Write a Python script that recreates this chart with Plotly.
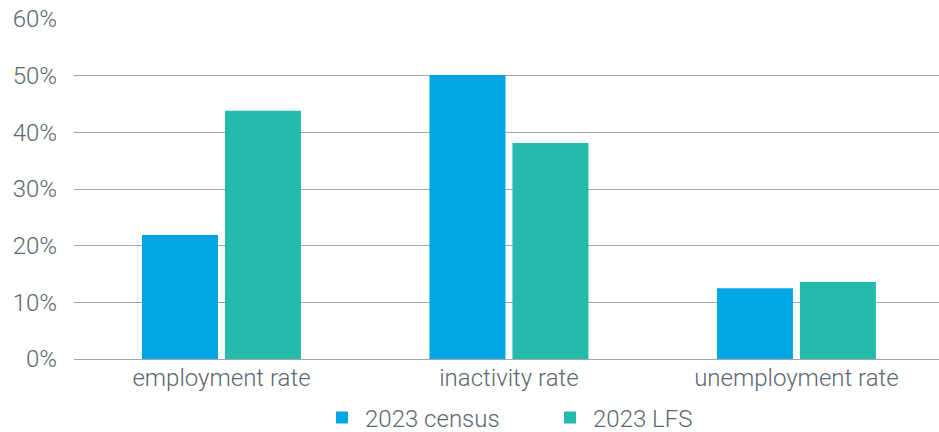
import plotly.graph_objects as go

categories = ["employment rate", "inactivity rate", "unemployment rate"]
census_2023 = [21.9, 50.1, 12.5]
lfs_2023 = [43.8, 38.1, 13.6]
series_names = ["2023 census", "2023 LFS"]
y_ticks = [0, 10, 20, 30, 40, 50, 60]
y_tick_labels = ["0%", "10%", "20%", "30%", "40%", "50%", "60%"]

FONT = "Roboto, Liberation Sans, sans-serif"
TEXT = "#5b6770"
FS = 24

fig = go.Figure()
fig.add_trace(go.Bar(x=categories, y=census_2023, name=series_names[0],
                     marker=dict(color="#00a6e1", line=dict(width=0))))
fig.add_trace(go.Bar(x=categories, y=lfs_2023, name=series_names[1],
                     marker=dict(color="#25bbac", line=dict(width=0))))

fig.update_layout(
    width=939, height=432,
    margin=dict(l=74, r=0, t=19, b=73, autoexpand=False),
    paper_bgcolor="white", plot_bgcolor="white",
    barmode="group", bargap=0.4226, bargroupgap=0.084,
    font=dict(family=FONT, size=FS, color=TEXT, weight=300),
    legend=dict(orientation="h", xref="container", x=319 / 939, xanchor="left",
                y=-0.173, yanchor="middle",
                font=dict(size=FS, color=TEXT, weight=300), itemsizing="constant",
                traceorder="normal", itemwidth=36, entrywidth=177),
    showlegend=True,
)
fig.update_xaxes(showgrid=False, showline=False, ticks="", automargin=False,
                 range=[-0.513, 2.496],
                 tickfont=dict(size=FS, color=TEXT, weight=300), ticklabelstandoff=2)
fig.update_yaxes(range=[0, 60], tickvals=y_ticks, ticktext=y_tick_labels,
                 showgrid=True, gridcolor="#a6a6a6", gridwidth=1, automargin=False,
                 zeroline=True, zerolinecolor="#a6a6a6", zerolinewidth=1,
                 showline=False, ticks="", ticklabelstandoff=16,
                 tickfont=dict(size=FS, color=TEXT, weight=300))

fig.write_html(
    "out.html",
    config={"displayModeBar": False},
    post_script="document.body.style.margin='0';document.body.style.overflow='hidden';",
)
